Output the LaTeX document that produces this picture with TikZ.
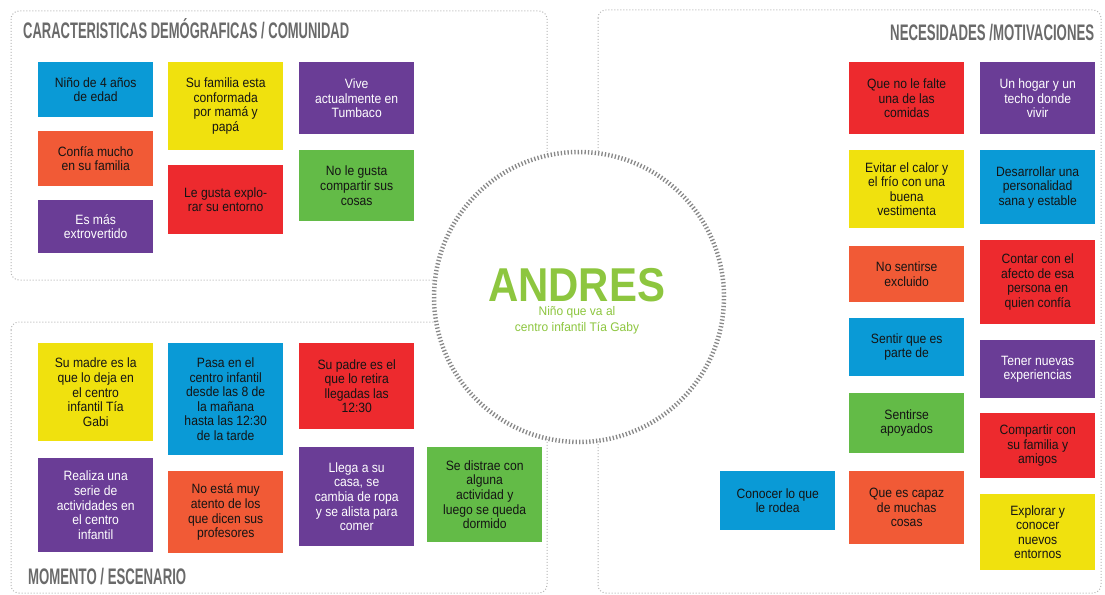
\documentclass[tikz,border=0pt]{standalone}
\usepackage{fontspec}
\usepackage{graphicx}
\setmainfont{Liberation Sans}
\newfontfamily\cardfont{Liberation Sans}[FakeStretch=0.9]
\newfontfamily\subfont{Liberation Sans}[FakeStretch=0.96]
\newfontfamily\headfont{Liberation Sans}
\definecolor{cblue}{HTML}{0A9AD6}
\definecolor{corange}{HTML}{F15A36}
\definecolor{cpurple}{HTML}{6A3D96}
\definecolor{cyellow}{HTML}{F0E10E}
\definecolor{cred}{HTML}{ED2A2E}
\definecolor{cgreen}{HTML}{63BB47}
\definecolor{headgray}{HTML}{6A6A6A}
\definecolor{panelgray}{HTML}{B4B4B4}
\definecolor{ringgray}{HTML}{888888}
\definecolor{namegreen}{HTML}{8DC63F}
\definecolor{cardtext}{HTML}{141414}
\tikzset{
  card/.style={anchor=north west, inner sep=0pt, minimum width=115pt, align=center,
    text=cardtext, font=\cardfont\fontsize{13.5}{14.6}\selectfont},
  lightcard/.style={card, text=white},
  panel/.style={draw=panelgray, line width=1pt, dash pattern=on 1pt off 2pt, rounded corners=8pt},
  heading/.style={anchor=base west, inner sep=0pt, text=headgray, font=\headfont\bfseries\fontsize{22.5}{24}\selectfont},
}
\begin{document}
\begin{tikzpicture}[x=1pt,y=-1pt]
\useasboundingbox (0,0) rectangle (1105,594);
% panels
\draw[panel] (11,11) rectangle (547,280);
\draw[panel] (11,322) rectangle (547,593);
\draw[panel] (598,10) rectangle (1101,593);
% central circle
\node[circle, minimum size=290pt, inner sep=0pt, fill=white, draw=ringgray,
  line width=4.5pt, dash pattern=on 1.3pt off 2.1pt] (ring) at (579,297) {};
\node[anchor=base, inner sep=0pt, text=namegreen, font=\headfont\bfseries\fontsize{47.5}{50}\selectfont]
  (andres) at (576.5,301) {\resizebox{177pt}{\height}{ANDRES}};
\node[anchor=base, inner sep=0pt, text=namegreen, font=\subfont\fontsize{12.5}{15.7}\selectfont]
  (sub1) at (577,315.5) {Niño que va al};
\node[anchor=base, inner sep=0pt, text=namegreen, font=\subfont\fontsize{12.5}{15.7}\selectfont]
  (sub2) at (577,331) {centro infantil Tía Gaby};
% headings
\node[heading] (h1) at (23,39) {\resizebox{326pt}{\height}{CARACTERISTICAS DEMÓGRAFICAS / COMUNIDAD}};
\node[heading] (h2) at (890,41) {\resizebox{204pt}{\height}{NECESIDADES /MOTIVACIONES}};
\node[heading] (h3) at (28,584) {\resizebox{158pt}{\height}{MOMENTO / ESCENARIO}};
% top-left cards
\node[card, fill=cblue, minimum height=55pt] (b1) at (38,62) {Niño de 4 años\\de edad};
\node[card, fill=corange, minimum height=55pt] (b2) at (38,131) {Confía mucho\\en su familia};
\node[lightcard, fill=cpurple, minimum height=53pt] (b3) at (38,200) {Es más\\extrovertido};
\node[card, fill=cyellow, minimum height=88pt] (b4) at (168,62) {Su familia esta\\conformada\\por mamá y\\papá};
\node[card, fill=cred, minimum height=69pt] (b5) at (168,165) {Le gusta explo-\\rar su entorno};
\node[lightcard, fill=cpurple, minimum height=72pt] (b6) at (299,62) {Vive\\actualmente en\\Tumbaco};
\node[card, fill=cgreen, minimum height=71pt] (b7) at (299,150) {No le gusta\\compartir sus\\cosas};
% right cards
\node[card, fill=cred, minimum height=72pt] (b8) at (849,62) {Que no le falte\\una de las\\comidas};
\node[lightcard, fill=cpurple, minimum height=72pt] (b9) at (980,62) {Un hogar y un\\techo donde\\vivir};
\node[card, fill=cyellow, minimum height=78pt] (b10) at (849,150) {Evitar el calor y\\el frío con una\\buena\\vestimenta};
\node[card, fill=cblue, minimum height=74pt] (b11) at (980,150) {Desarrollar una\\personalidad\\sana y estable};
\node[card, fill=corange, minimum height=56pt] (b12) at (849,246) {No sentirse\\excluido};
\node[card, fill=cred, minimum height=84pt] (b13) at (980,240) {Contar con el\\afecto de esa\\persona en\\quien confía};
\node[card, fill=cblue, minimum height=58pt] (b14) at (849,318) {Sentir que es\\parte de};
\node[lightcard, fill=cpurple, minimum height=58pt] (b15) at (980,340) {Tener nuevas\\experiencias};
\node[card, fill=cgreen, minimum height=60pt] (b16) at (849,393) {Sentirse\\apoyados};
\node[card, fill=cred, minimum height=65pt] (b17) at (980,413) {Compartir con\\su familia y\\amigos};
\node[card, fill=cblue, minimum height=59pt] (b18) at (720,471) {Conocer lo que\\le rodea};
\node[card, fill=corange, minimum height=73pt] (b19) at (849,471) {Que es capaz\\de muchas\\cosas};
\node[card, fill=cyellow, minimum height=76pt] (b20) at (980,494) {Explorar y\\conocer\\nuevos\\entornos};
% bottom-left cards
\node[card, fill=cyellow, minimum height=98pt] (b21) at (38,343) {Su madre es la\\que lo deja en\\el centro\\infantil Tía\\Gabi};
\node[card, fill=cblue, minimum height=112pt] (b22) at (168,343) {Pasa en el\\centro infantil\\desde las 8 de\\la mañana\\hasta las 12:30\\de la tarde};
\node[card, fill=cred, minimum height=86pt] (b23) at (299,343) {Su padre es el\\que lo retira\\llegadas las\\12:30};
\node[lightcard, fill=cpurple, minimum height=94pt] (b24) at (38,458) {Realiza una\\serie de\\actividades en\\el centro\\infantil};
\node[card, fill=corange, minimum height=82pt] (b25) at (168,471) {No está muy\\atento de los\\que dicen sus\\profesores};
\node[lightcard, fill=cpurple, minimum height=99pt] (b26) at (299,447) {Llega a su\\casa, se\\cambia de ropa\\y se alista para\\comer};
\node[card, fill=cgreen, minimum height=95pt] (b27) at (427,447) {Se distrae con\\alguna\\actividad y\\luego se queda\\dormido};
\end{tikzpicture}
\end{document}
